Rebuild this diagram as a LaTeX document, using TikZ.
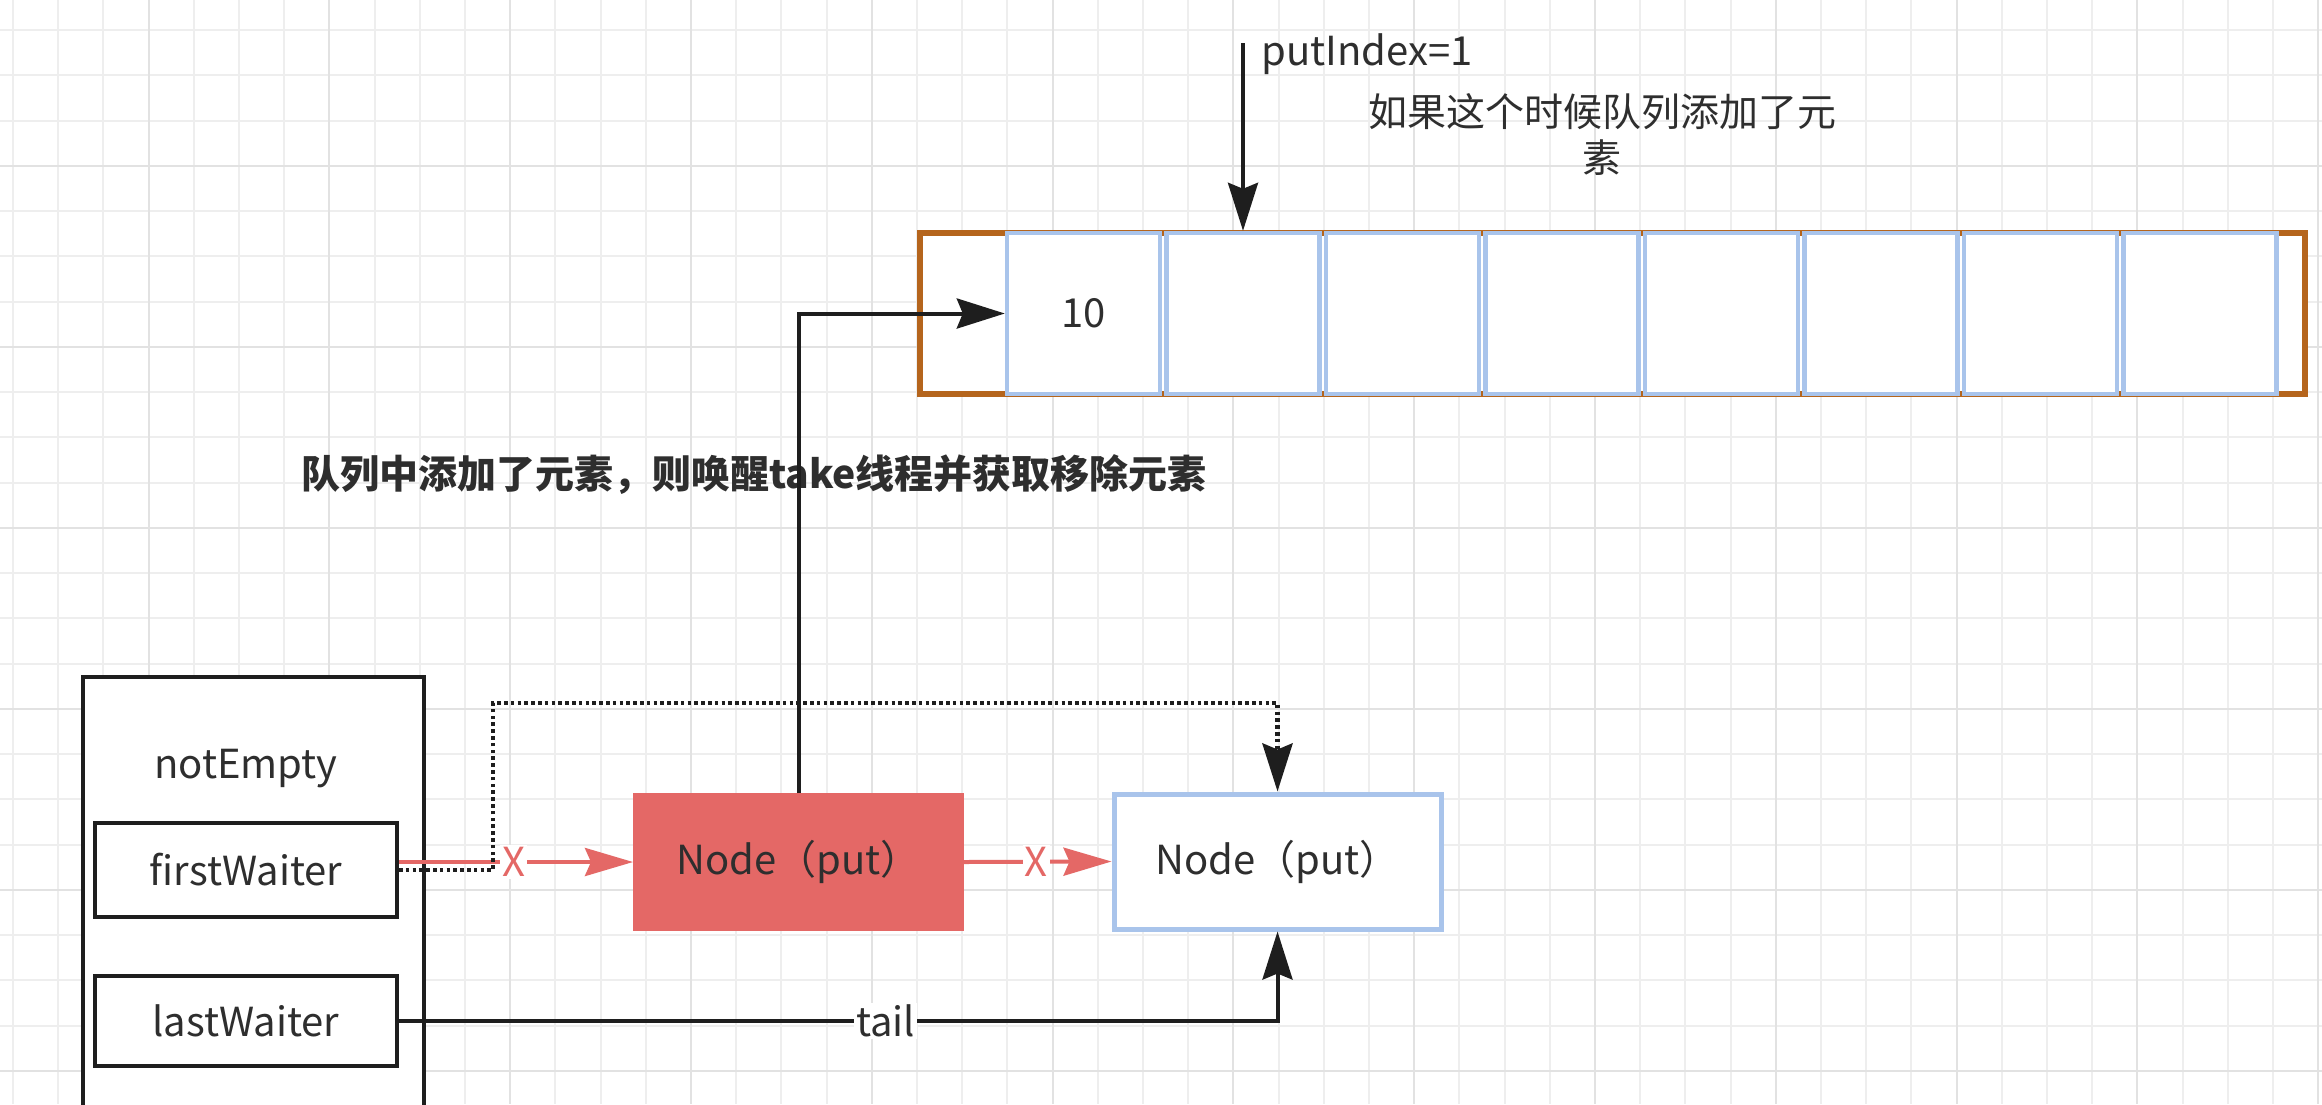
\documentclass[tikz,border=0pt]{standalone}
\usepackage{fontspec}
\setmainfont{Noto Sans CJK SC}
\usetikzlibrary{arrows.meta}
\definecolor{gridminor}{HTML}{EEEEEE}
\definecolor{gridmajor}{HTML}{E2E2E2}
\definecolor{txt}{HTML}{2E2E2E}
\definecolor{lred}{HTML}{E46866}
\definecolor{lblue}{HTML}{A9C4EB}
\definecolor{lorange}{HTML}{B5651D}
\definecolor{ink}{HTML}{1E1E1E}
\begin{document}
\begin{tikzpicture}[x=0.5pt,y=-0.5pt,
  every node/.style={font=\fontsize{20}{24}\selectfont, text=txt},
  blk/.style={draw=ink, line width=2pt, fill=white, inner sep=0pt},
  cell/.style={draw=lblue, line width=2.2pt, fill=white, minimum width=76.5pt, minimum height=80.5pt, inner sep=0pt},
  conn/.style={draw=ink, line width=2pt, -{Stealth[length=24pt,width=15pt,inset=3pt]}},
  rconn/.style={draw=lred, line width=2pt, -{Stealth[length=24pt,width=14pt,inset=3pt]}},
  dconn/.style={draw=ink, line width=2.4pt, dash pattern=on 1.8pt off 1.6pt, -{Stealth[length=24pt,width=15pt,inset=3pt]}},
  xlab/.style={text=lred, fill=white, inner sep=1pt, font=\fontsize{20}{24}\selectfont},
  lbl/.style={fill=white, inner sep=1pt}
]
\useasboundingbox (0,0) rectangle (2322,1104);
\clip (0,0) rectangle (2322,1104);
\fill[white] (0,0) rectangle (2322,1104);
% grid
\foreach \i in {0,...,51} \draw[gridminor, line width=1pt] ({13+45.2*\i},0) -- ({13+45.2*\i},1104);
\foreach \i in {0,...,24} \draw[gridminor, line width=1pt] (0,{30+45.25*\i}) -- (2322,{30+45.25*\i});
\foreach \j in {0,...,12} \draw[gridmajor, line width=1pt] ({148.6+180.8*\j},0) -- ({148.6+180.8*\j},1104);
\foreach \j in {0,...,5} \draw[gridmajor, line width=1pt] (0,{165.75+181*\j}) -- (2322,{165.75+181*\j});

% array
\node[draw=lorange, line width=3pt, fill=white, minimum width=692.5pt, minimum height=80.5pt, inner sep=0pt] (arr) at (1612.5,313.5) {};
\foreach \k in {0,...,7} \node[cell] (c\k) at ({1083.5+159.5*\k},313.5) {};
\node (ten) at (c0) {10};

% texts
\node[anchor=base west, inner sep=0pt] (pil) at (1261,65) {putIndex=1};
\node[align=center, inner sep=0pt, font=\fontsize{19.5}{23}\selectfont] (note) at (1602,134) {如果这个时候队列添加了元\\素};
\node[inner sep=0pt, font=\bfseries\fontsize{19.5}{23}\selectfont] (wake) at (754,475) {队列中添加了元素，则唤醒take线程并获取移除元素};

% left structure
\node[blk, minimum width=170.5pt, minimum height=223pt] (ne) at (253.5,900) {};
\node (netxt) at (246,769) {notEmpty};
\node[blk, minimum width=151pt, minimum height=47pt] (fw) at (246,870) {firstWaiter};
\node[blk, minimum width=151pt, minimum height=45pt] (lw) at (246,1021) {lastWaiter};

% queue nodes
\node[draw=lred, fill=lred, line width=1pt, minimum width=164.5pt, minimum height=68pt] (rn) at (798.5,862) {Node（put）};
\node[draw=lblue, fill=white, line width=2.5pt, minimum width=163.5pt, minimum height=67.5pt] (bn) at (1277.5,861.5) {Node（put）};

% connectors
\coordinate (pt) at (1243,43);
\draw[conn] (pt) -- (c1.north);
\draw[conn] (rn.north) |- (c0.west);
\draw[rconn] (fw.east |- rn.west) -- node[xlab, pos=0.49] {X} (rn.west);
\draw[rconn] (rn.east) -- node[xlab, pos=0.49] {X} (bn.west);
\coordinate (d1) at (493,703);
\draw[dconn] (fw.east) -| (d1) -| (bn.north);
\draw[conn] (lw.east) -| node[lbl, pos=0.277] {tail} (bn.south);
\end{tikzpicture}
\end{document}
